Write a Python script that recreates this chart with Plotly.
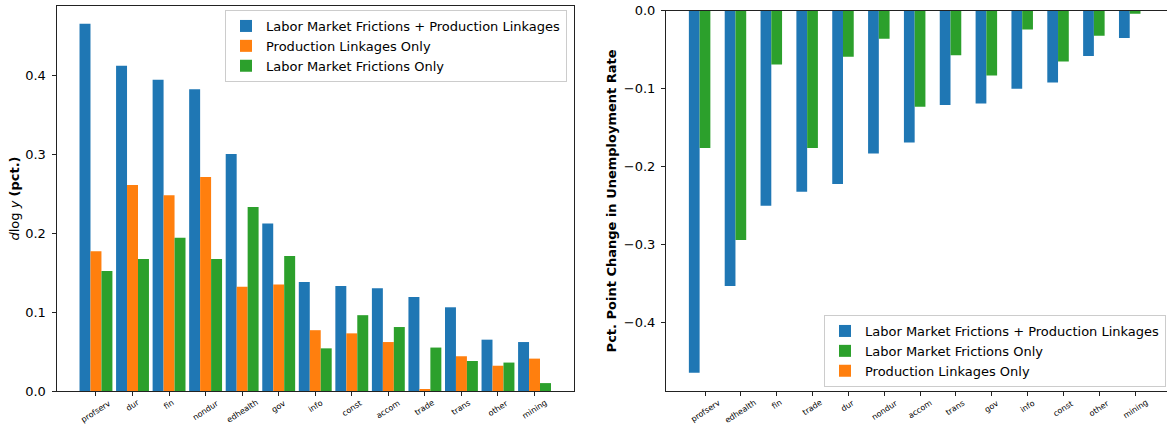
import plotly.graph_objects as go

# Output response by sector (log change, pct.)
output_sectors = ["profserv", "dur", "fin", "nondur", "edhealth", "gov", "info",
                  "const", "accom", "trade", "trans", "other", "mining"]
output_both = [0.465, 0.412, 0.394, 0.382, 0.300, 0.212, 0.138,
               0.133, 0.130, 0.119, 0.106, 0.065, 0.062]
output_prod_only = [0.177, 0.261, 0.248, 0.271, 0.132, 0.135, 0.077,
                    0.073, 0.062, 0.002, 0.044, 0.032, 0.041]
output_labor_only = [0.152, 0.167, 0.194, 0.167, 0.233, 0.171, 0.054,
                     0.096, 0.081, 0.055, 0.038, 0.036, 0.010]

# Unemployment response by sector (pct. point change)
unemp_sectors = ["profserv", "edhealth", "fin", "trade", "dur", "nondur", "accom",
                 "trans", "gov", "info", "const", "other", "mining"]
unemp_both = [-0.464, -0.353, -0.250, -0.232, -0.222, -0.183, -0.169,
              -0.121, -0.119, -0.100, -0.092, -0.058, -0.035]
unemp_labor_only = [-0.176, -0.294, -0.069, -0.176, -0.059, -0.036, -0.123,
                    -0.057, -0.083, -0.024, -0.065, -0.032, -0.004]
unemp_prod_only = [0.0, 0.0, 0.0, 0.0, 0.0, 0.0, 0.0,
                   0.0, 0.0, 0.0, 0.0, 0.0, 0.0]

LABEL_BOTH = "Labor Market Frictions + Production Linkages"
LABEL_PROD = "Production Linkages Only"
LABEL_LABOR = "Labor Market Frictions Only"

BLUE, ORANGE, GREEN = "#1f77b4", "#ff7f0e", "#2ca02c"
FONT = "DejaVu Sans"
FS = 13
W, H = 1167, 426


def px_x(p):
    return p / W


def px_y(p):
    return 1 - p / H


fig = go.Figure()

# Left panel
for name, vals, col in [(LABEL_BOTH, output_both, BLUE),
                        (LABEL_PROD, output_prod_only, ORANGE),
                        (LABEL_LABOR, output_labor_only, GREEN)]:
    fig.add_trace(go.Bar(x=output_sectors, y=vals, name=name, marker_color=col,
                         marker_line_width=0, xaxis="x", yaxis="y",
                         legend="legend", offsetgroup=name + "L"))

# Right panel
for name, vals, col in [(LABEL_BOTH, unemp_both, BLUE),
                        (LABEL_LABOR, unemp_labor_only, GREEN),
                        (LABEL_PROD, unemp_prod_only, ORANGE)]:
    fig.add_trace(go.Bar(x=unemp_sectors, y=vals, name=name, marker_color=col,
                         marker_line_width=0, xaxis="x2", yaxis="y2",
                         legend="legend2", offsetgroup=name + "R"))

axis_common = dict(showgrid=False, zeroline=False, showline=True, automargin=False,
                   linecolor="#222", linewidth=1, ticks="outside", ticklen=4,
                   tickcolor="#222", tickfont=dict(family=FONT, size=FS, color="#000"))

left_dom_y = [px_y(391), px_y(6)]
right_dom_y = [px_y(391), px_y(10.7)]

legend_common = dict(bgcolor="white", bordercolor="#cccccc", borderwidth=1,
                     font=dict(family=FONT, size=FS, color="#000"),
                     itemwidth=30, tracegroupgap=0)

fig.update_layout(
    width=W, height=H,
    margin=dict(l=0, r=0, t=0, b=0, autoexpand=False),
    paper_bgcolor="white", plot_bgcolor="white",
    barmode="group", bargap=0.1, bargroupgap=0,
    font=dict(family=FONT, size=FS, color="#000"),
    xaxis=dict(**axis_common, domain=[px_x(56.5), px_x(574)], anchor="y",
               type="category", categoryorder="array", categoryarray=output_sectors,
               range=[-1.08, 13.08], mirror=True, showticklabels=False),
    yaxis=dict(**axis_common, domain=left_dom_y, anchor="x",
               range=[0, 0.4875], tickvals=[0, 0.1, 0.2, 0.3, 0.4],
               tickformat=".1f", mirror=True, ticklabelstandoff=3,
               title=dict(text="<i>d</i>log <i>y</i> <b>(pct.)</b>",
                          font=dict(family=FONT, size=FS, color="#000"), standoff=2)),
    xaxis2=dict(**axis_common, domain=[px_x(666), 1.0], anchor="y2",
                type="category", categoryorder="array", categoryarray=unemp_sectors,
                range=[-1.088, 12.89], mirror=True, showticklabels=False),
    yaxis2=dict(**axis_common, domain=right_dom_y, anchor="x2",
                range=[-0.4875, 0], tickvals=[0, -0.1, -0.2, -0.3, -0.4],
                tickformat=".1f", ticklabelstandoff=3,
                title=dict(text="<b>Pct. Point Change in Unemployment Rate</b>",
                           font=dict(family=FONT, size=FS, color="#000"), standoff=4)),
    legend=dict(**legend_common, x=px_x(567), xanchor="right",
                y=px_y(10), yanchor="top"),
    legend2=dict(**legend_common, x=px_x(1166), xanchor="right",
                 y=px_y(387), yanchor="bottom"),
)

# Rotated sector labels under each panel
annotations = []
for xref, cats in [("x", output_sectors), ("x2", unemp_sectors)]:
    for c in cats:
        annotations.append(dict(x=c, xref=xref, y=px_y(397), yref="paper",
                                text=c, showarrow=False, textangle=-33,
                                xanchor="center", yanchor="top", borderpad=0,
                                font=dict(family=FONT, size=8, color="#000")))
fig.update_layout(annotations=annotations)

fig.write_html("out.html")
